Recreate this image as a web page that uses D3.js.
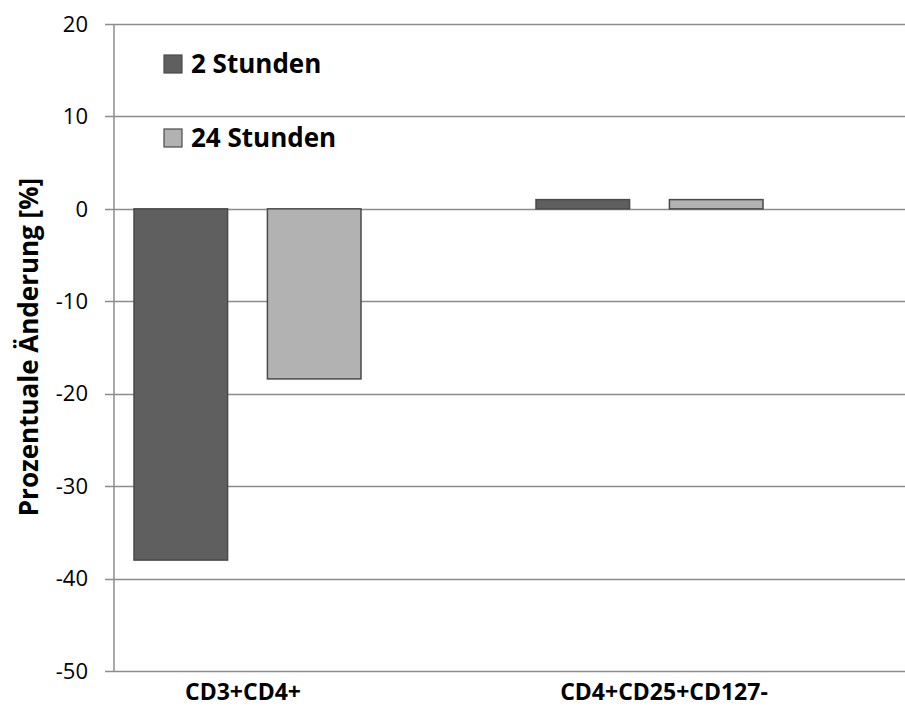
<!DOCTYPE html>
<html><head><meta charset="utf-8">
<script src="https://cdn.jsdelivr.net/npm/d3@7"></script>
<style>body{margin:0;background:#fff}svg{display:block}text{font-family:"Open Sans",sans-serif}</style>
</head><body><svg id="c" width="905" height="706"></svg>
<script>
const categories = ["CD3+CD4+", "CD4+CD25+CD127-"];
const seriesNames = ["2 Stunden", "24 Stunden"];
const values2h = [-38.0, 1.0];
const values24h = [-18.4, 1.0];
const yTicks = [20, 10, 0, -10, -20, -30, -40, -50];
const colors = ["#5f5f5f", "#b2b2b2"];

const svg = d3.select("#c");
const y = d3.scaleLinear().domain([-50, 20]).range([671, 24]);
const xLeft = 114, xRight = 905;
const x0 = d3.scaleBand().domain(categories).range([46.5, 850.5]);
const x1 = d3.scaleBand().domain(seriesNames).range([87.5, 314.5]).paddingInner(0.2985);
const xLab = d3.scalePoint().domain(categories).range([243, 664]);

// grid lines
svg.append("g").selectAll("line").data(yTicks).join("line")
  .attr("x1", xLeft - 9).attr("x2", xRight)
  .attr("y1", d => Math.round(y(d)) + 0.5).attr("y2", d => Math.round(y(d)) + 0.5)
  .attr("stroke", "#8c8c8c").attr("stroke-width", 1.5);

// y axis line
svg.append("line").attr("x1", xLeft).attr("x2", xLeft).attr("y1", y(20)).attr("y2", y(-50))
  .attr("stroke", "#8c8c8c").attr("stroke-width", 1.5);

// tick labels
svg.append("g").selectAll("text").data(yTicks).join("text")
  .attr("x", 88).attr("y", d => y(d)).attr("dy", "0.35em")
  .attr("text-anchor", "end").attr("font-size", 22).attr("fill", "#000")
  .text(d => d);

// bars
const seriesData = [values2h, values24h];
categories.forEach((c, ci) => {
  seriesNames.forEach((s, si) => {
    const v = seriesData[si][ci];
    svg.append("rect")
      .attr("x", x0(c) + x1(s)).attr("width", x1.bandwidth())
      .attr("y", y(Math.max(0, v))).attr("height", Math.abs(y(v) - y(0)))
      .attr("fill", colors[si]).attr("stroke", "#4a4a4a").attr("stroke-width", 1.5);
  });
});

// x labels
svg.append("g").selectAll("text").data(categories).join("text")
  .attr("x", d => xLab(d)).attr("y", 700).attr("text-anchor", "middle")
  .attr("font-size", 23).attr("font-weight", "bold").text(d => d);

// y title
svg.append("text").attr("transform", "translate(38,347) rotate(-90)")
  .attr("text-anchor", "middle").attr("font-size", 26).attr("font-weight", "bold")
  .text("Prozentuale Änderung [%]");

// legend
const legY = [64, 138];
seriesNames.forEach((s, i) => {
  svg.append("rect").attr("x", 164).attr("y", legY[i] - 9).attr("width", 18).attr("height", 18)
    .attr("fill", colors[i]).attr("stroke", "#4a4a4a").attr("stroke-width", 1.2);
  svg.append("text").attr("x", 191).attr("y", legY[i]).attr("dy", "0.36em")
    .attr("font-size", 26).attr("font-weight", "bold").text(s);
});
</script></body></html>
